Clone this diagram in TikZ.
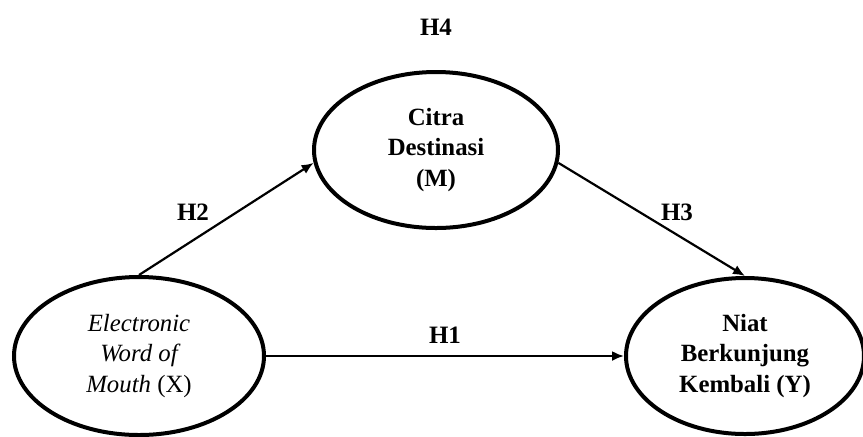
\documentclass[tikz,border=0pt]{standalone}
\usepackage{fontspec}
\setmainfont{Liberation Serif}
\usepackage{tikz}
\usetikzlibrary{shapes,arrows.meta}
\usetikzlibrary{positioning}
\tikzset{construct/.style={draw, ellipse, line width=2pt, inner sep=0pt,
    align=center, font=\fontsize{12.4}{15.3}\selectfont\bfseries},
  hyp/.style={font=\fontsize{12.5}{14}\selectfont\bfseries},
  link/.style={-{Latex[length=6pt,width=5pt]}, line width=1.1pt}
}

\begin{document}
\begin{tikzpicture}[x=0.5pt, y=-0.5pt, node distance=303pt, on grid]
      \useasboundingbox (0,0) rectangle (863,436);
      \node[construct, minimum width=125pt, minimum height=79pt] (x) at (139,356)
            {\mdseries\itshape Electronic\\ \mdseries\itshape Word of\\ \mdseries\itshape Mouth \upshape(X)};
      \node[construct, minimum width=119pt, minimum height=78pt] (y) [right=of x]
            {Niat\\ Berkunjung\\ Kembali (Y)};
      \node[construct, minimum width=122pt, minimum height=78pt] (m) at (436,150)
            {Citra\\ Destinasi\\ (M)};
      \path[link] (x.north) edge (m.186)
                  (m.-6)    edge (y.north)
                  (x.east)  edge (y.west);
      \node[hyp] (h1) at (445,335) {H1};
      \node[hyp] (h2) at (193,212) {H2};
      \node[hyp] (h3) at (677,212) {H3};
      \node[hyp] (h4) at (436,27)  {H4};
    \end{tikzpicture}
\end{document}
